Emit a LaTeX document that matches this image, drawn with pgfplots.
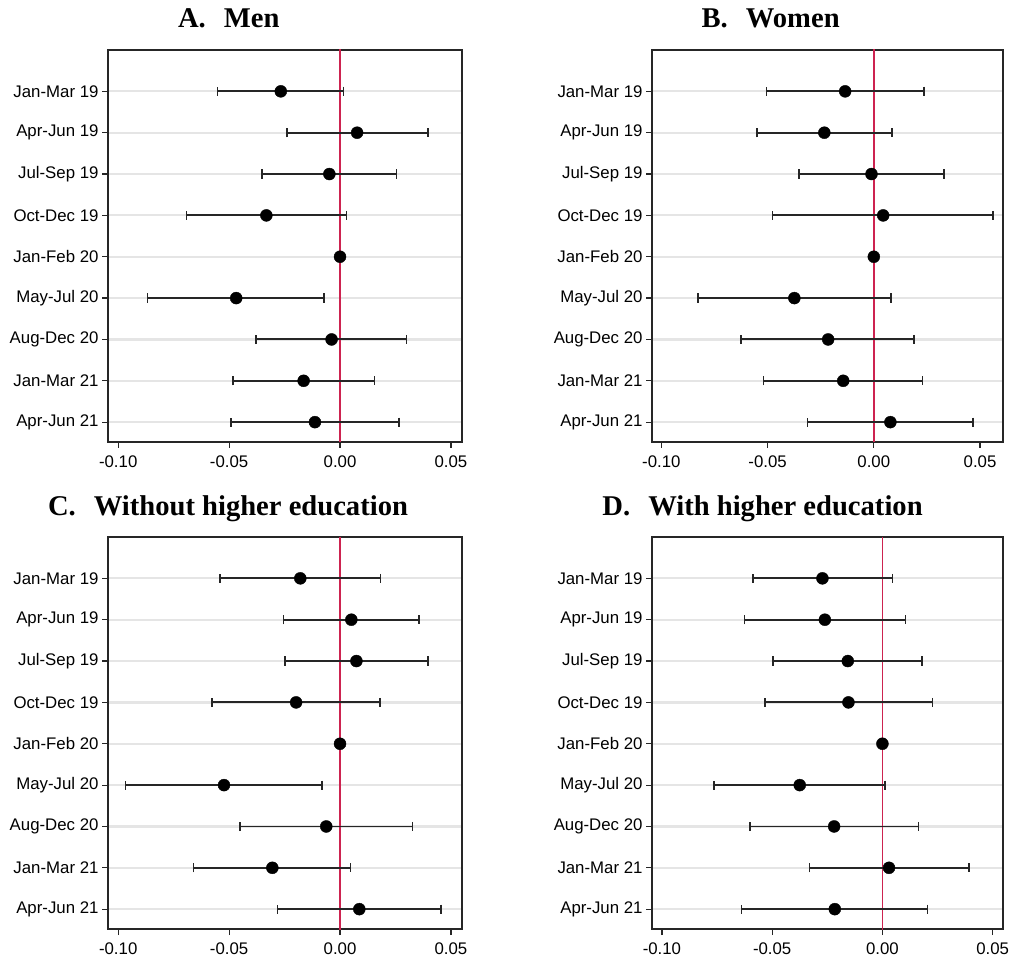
\documentclass[border=0pt]{standalone}
\usepackage{pgfplots}
\pgfplotsset{compat=1.18}
\usepackage{pgfplotstable}
\usepackage{fontspec}
\setmainfont{Liberation Sans}
\newfontfamily\titlefont{Liberation Serif}
\definecolor{zeroline}{RGB}{205,35,80}

\pgfplotstableread{
row b lo hi
1 -0.0267 -0.0553 0.0015
2 0.0077 -0.0240 0.0396
3 -0.0048 -0.0351 0.0255
4 -0.0332 -0.0692 0.0029
5 0 0 0
6 -0.0468 -0.0868 -0.0071
7 -0.0038 -0.0378 0.0300
8 -0.0164 -0.0482 0.0155
9 -0.0113 -0.0491 0.0266
}\tabA
\pgfplotstableread{
row b lo hi
1 -0.0135 -0.0506 0.0236
2 -0.0233 -0.0551 0.0086
3 -0.0011 -0.0351 0.0329
4 0.0044 -0.0476 0.0561
5 0 0 0
6 -0.0374 -0.0828 0.0080
7 -0.0215 -0.0625 0.0188
8 -0.0144 -0.0520 0.0229
9 0.0078 -0.0313 0.0468
}\tabB
\pgfplotstableread{
row b lo hi
1 -0.0179 -0.0542 0.0182
2 0.0051 -0.0255 0.0357
3 0.0074 -0.0249 0.0398
4 -0.0198 -0.0578 0.0179
5 0 0 0
6 -0.0523 -0.0968 -0.0081
7 -0.0062 -0.0450 0.0326
8 -0.0305 -0.0661 0.0048
9 0.0087 -0.0282 0.0456
}\tabC
\pgfplotstableread{
row b lo hi
1 -0.0272 -0.0588 0.0045
2 -0.0261 -0.0625 0.0104
3 -0.0157 -0.0495 0.0180
4 -0.0154 -0.0533 0.0227
5 0 0 0
6 -0.0375 -0.0763 0.0011
7 -0.0219 -0.0601 0.0163
8 0.0030 -0.0331 0.0393
9 -0.0216 -0.0639 0.0204
}\tabD

\pgfplotsset{
  panel/.style={
    scale only axis, height=392pt,
    ymin=0, ymax=9.48, y dir=reverse,
    ytick={1,...,9},
    yticklabels={Jan-Mar 19,Apr-Jun 19,Jul-Sep 19,Oct-Dec 19,Jan-Feb 20,May-Jul 20,Aug-Dec 20,Jan-Mar 21,Apr-Jun 21},
    xtick={-0.1,-0.05,0,0.05},
    xticklabels={-0.10,-0.05,0.00,0.05},
    xtick pos=lower, ytick pos=left,
    tick align=outside, major tick length=6pt,
    tick style={black!85, line width=1.2pt},
    axis line style={black!85, line width=1.4pt},
    ymajorgrids, grid style={black!10, line width=2.2pt},
    tick label style={font=\fontsize{16.8}{19}\selectfont},
    xticklabel style={yshift=-4pt},
    title style={font=\titlefont\bfseries\fontsize{28.6}{32}\selectfont, anchor=base, yshift=16pt},
  },
  ci/.style={black, mark=*, mark size=6pt, only marks,
    error bars/.cd, x dir=both, x explicit, error mark=|,
    error bar style={black!85, line width=1.9pt},
    error mark options={black!85, line width=1.6pt, mark size=4.6pt}},
}

\newcommand{\panelplots}[1]{%
  \addplot[draw=zeroline, line width=1.6pt] coordinates {(0,-1) (0,11)};
  \addplot[ci] table[x=b, y=row, x error plus expr=\thisrow{hi}-\thisrow{b}, x error minus expr=\thisrow{b}-\thisrow{lo}] {#1};
}

\begin{document}
\begin{tikzpicture}
\useasboundingbox (0,0) rectangle (1011pt,960pt);

\begin{axis}[panel, at={(108pt,518pt)}, anchor=south west, width=354pt,
  xmin=-0.1046, xmax=0.055,
  title={A.\hspace{18pt}Men}, title style={at={(0.341,1)}}]
\panelplots{\tabA}
\end{axis}

\begin{axis}[panel, at={(652pt,518pt)}, anchor=south west, width=351pt,
  xmin=-0.1044, xmax=0.0608,
  title={B.\hspace{18pt}Women}, title style={at={(0.338,1)}}]
\panelplots{\tabB}
\end{axis}

\begin{axis}[panel, at={(108pt,31pt)}, anchor=south west, width=354pt,
  xmin=-0.1046, xmax=0.055,
  title={C.\hspace{18pt}Without higher education}, title style={at={(0.339,1)}}]
\panelplots{\tabC}
\end{axis}

\begin{axis}[panel, at={(652pt,31pt)}, anchor=south west, width=351pt,
  xmin=-0.1045, xmax=0.0547,
  title={D.\hspace{18pt}With higher education}, title style={at={(0.315,1)}}]
\panelplots{\tabD}
\end{axis}
\end{tikzpicture}
\end{document}
